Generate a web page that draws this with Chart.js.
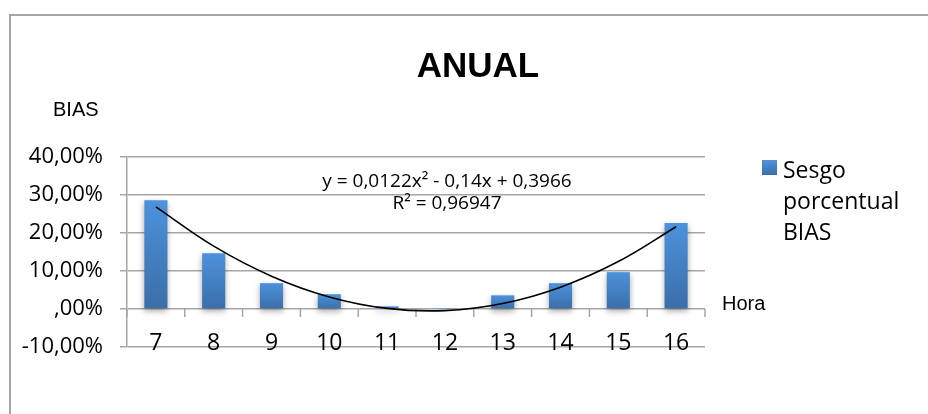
<!DOCTYPE html>
<html><head><meta charset="utf-8">
<script src="https://cdn.jsdelivr.net/npm/chart.js@4.4.0/dist/chart.umd.min.js"></script>
<style>
html,body{margin:0;padding:0;width:928px;height:414px;overflow:hidden;background:#fff;}
#frame{position:absolute;left:9px;top:14px;width:960px;height:440px;border:2px solid #a6a6a6;box-sizing:border-box;}
#c{position:absolute;left:0;top:0;}
.t{position:absolute;white-space:nowrap;color:#000;}
#title{left:378px;width:200px;text-align:center;top:45px;font:bold 35px/40px "Liberation Sans",Arial,sans-serif;}
#ytitle{left:53px;top:97px;font:20px/24px "Liberation Sans",Arial,sans-serif;}
#xtitle{left:722px;top:291px;font:20px/24px "Liberation Sans",Arial,sans-serif;}
#legend{left:762px;top:154px;font:23px/31px "Open Sans",sans-serif;}
#legend .sw{position:absolute;left:0;top:6px;width:15px;height:15px;background:linear-gradient(#4f93dc,#3a6ea9);}
#legend .tx{position:absolute;left:21px;top:0;}
#eq{left:297px;width:300px;text-align:center;top:169px;font:19px/22px "Open Sans",sans-serif;}
</style>
</head><body>
<div id="frame"></div>
<canvas id="c" width="928" height="414"></canvas>
<div class="t" id="title"></div>
<div class="t" id="ytitle"></div>
<div class="t" id="xtitle"></div>
<div class="t" id="legend"><div class="sw"></div><div class="tx"></div></div>
<div class="t" id="eq"></div>
<script>
const chartTitle = 'ANUAL';
const yAxisTitle = 'BIAS';
const xAxisTitle = 'Hora';
const seriesNameLines = ['Sesgo', 'porcentual', 'BIAS'];
const hours = ['7', '8', '9', '10', '11', '12', '13', '14', '15', '16'];
const biasValues = [0.286, 0.147, 0.068, 0.039, 0.007, 0.001, 0.036, 0.068, 0.097, 0.226];
const trendValues = [0.2688, 0.1654, 0.0864, 0.0318, 0.0016, -0.0042, 0.0144, 0.0574, 0.1248, 0.2166];
const yTickLabels = ['-10,00%', ',00%', '10,00%', '20,00%', '30,00%', '40,00%'];
const trendLabelLines = ['y = 0,0122x\u00b2 - 0,14x + 0,3966', 'R\u00b2 = 0,96947'];

document.getElementById('title').textContent = chartTitle;
document.getElementById('ytitle').textContent = yAxisTitle;
document.getElementById('xtitle').textContent = xAxisTitle;
const lt = document.querySelector('#legend .tx');
seriesNameLines.forEach((s, i) => { if (i) lt.appendChild(document.createElement('br')); lt.appendChild(document.createTextNode(s)); });
const eq = document.getElementById('eq');
trendLabelLines.forEach((s, i) => { if (i) eq.appendChild(document.createElement('br')); eq.appendChild(document.createTextNode(s)); });

const gridColor = '#a6a6a6';

const zeroTicks = {
  id: 'zeroTicks',
  beforeDatasetsDraw(chart) {
    const { ctx, chartArea, scales: { x, y } } = chart;
    const y0 = y.getPixelForValue(0);
    const n = hours.length;
    ctx.save();
    ctx.strokeStyle = gridColor;
    ctx.lineWidth = 1.5;
    ctx.beginPath();
    for (let i = 0; i <= n; i++) {
      let xp;
      if (i === 0) xp = chartArea.left;
      else if (i === n) xp = chartArea.right;
      else xp = (x.getPixelForValue(i - 1) + x.getPixelForValue(i)) / 2;
      ctx.moveTo(xp, y0);
      ctx.lineTo(xp, y0 + 8);
    }
    ctx.stroke();
    ctx.restore();
  },
  beforeDatasetDraw(chart, args) {
    if (args.index === 0) {
      const c = chart.ctx;
      c.save();
      c.shadowColor = 'rgba(0,0,0,0.35)';
      c.shadowBlur = 6;
      c.shadowOffsetY = 3;
    }
  },
  afterDatasetDraw(chart, args) {
    if (args.index === 0) chart.ctx.restore();
  }
};

new Chart(document.getElementById('c'), {
  data: {
    labels: hours,
    datasets: [
      {
        type: 'bar',
        label: seriesNameLines.join(' '),
        data: biasValues,
        order: 1,
        categoryPercentage: 1,
        barPercentage: 0.4,
        backgroundColor: (ctx) => {
          const chart = ctx.chart;
          const y = chart.scales && chart.scales.y;
          if (!y || ctx.raw === undefined) return '#4683c9';
          const top = y.getPixelForValue(ctx.raw);
          const bot = y.getPixelForValue(0);
          if (!isFinite(top) || !isFinite(bot) || top === bot) return '#4683c9';
          const g = chart.ctx.createLinearGradient(0, top, 0, bot);
          g.addColorStop(0, '#4d92dc');
          g.addColorStop(1, '#3a6ea9');
          return g;
        }
      },
      {
        type: 'line',
        label: 'Polinómica',
        data: trendValues,
        order: 0,
        borderColor: '#000',
        borderWidth: 1.6,
        pointRadius: 0,
        tension: 0.4,
        fill: false
      }
    ]
  },
  options: {
    responsive: false,
    animation: false,
    events: [],
    layout: { padding: { top: 157, right: 223, bottom: 0, left: 0 } },
    plugins: { legend: { display: false }, title: { display: false }, tooltip: { enabled: false } },
    scales: {
      x: {
        offset: true,
        grid: { display: false, drawTicks: false },
        border: { display: false },
        ticks: { color: '#000', font: { family: 'Open Sans', size: 23 }, mirror: true, padding: -10, maxRotation: 0, autoSkip: false },
        afterFit: (s) => { s.height = 67; }
      },
      y: {
        min: -0.1,
        max: 0.4,
        ticks: { stepSize: 0.1, color: '#000', font: { family: 'Open Sans', size: 22 }, padding: 17,
          callback: (v, i) => yTickLabels[i] },
        grid: { color: gridColor, lineWidth: 1.5, tickLength: 7 },
        border: { color: gridColor, width: 1.5 },
        afterFit: (s) => { s.width = 127; }
      }
    }
  },
  plugins: [zeroTicks]
});
</script>
</body></html>
